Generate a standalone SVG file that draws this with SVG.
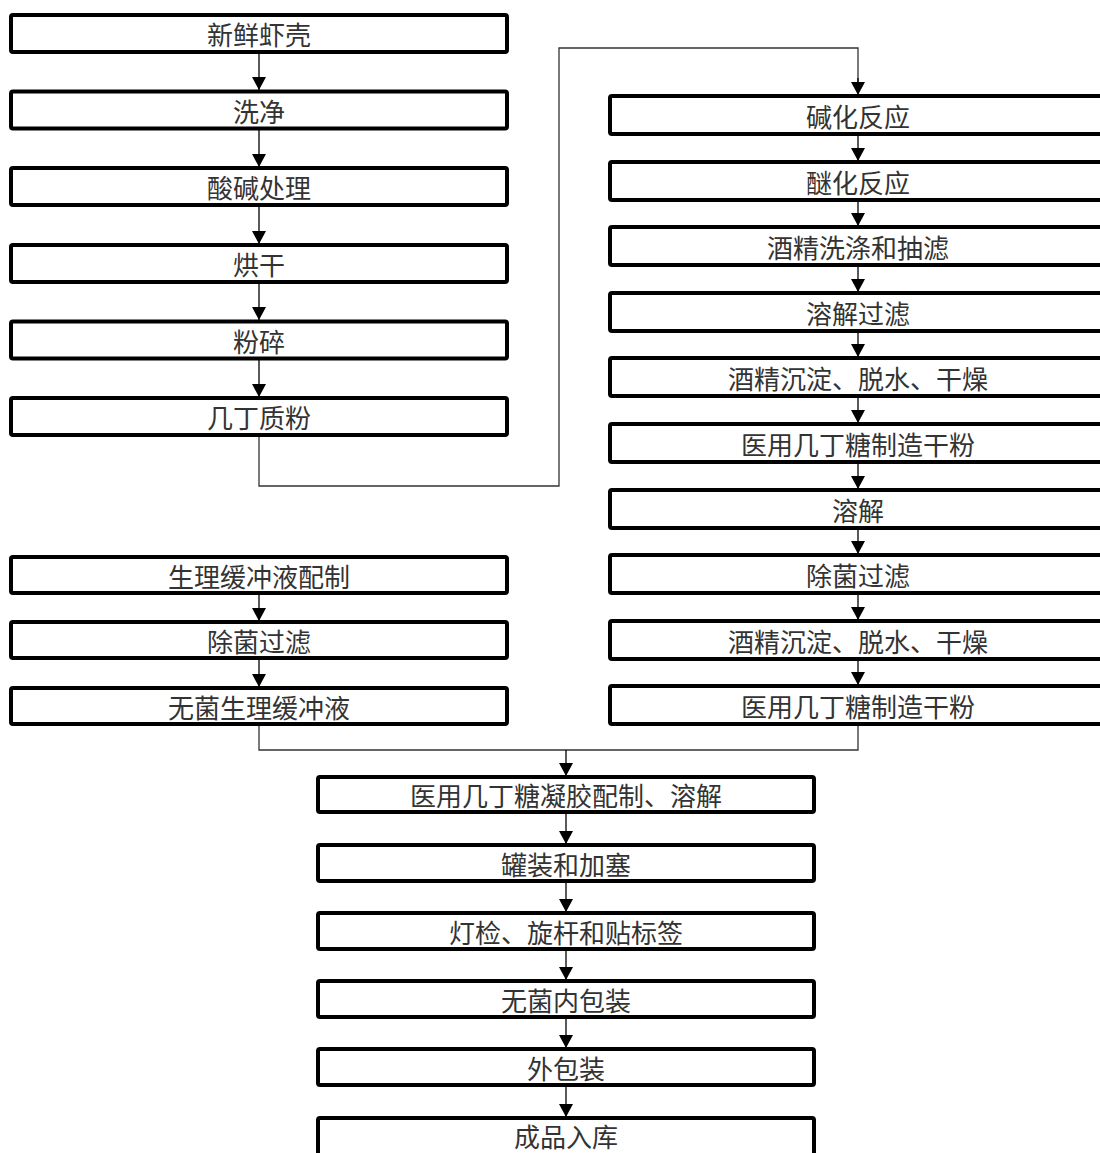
<svg xmlns="http://www.w3.org/2000/svg" width="1100" height="1153" viewBox="0 0 1100 1153">
<defs>
<marker id="ah" viewBox="0 0 13 14" refX="13" refY="7" markerWidth="13" markerHeight="14" markerUnits="userSpaceOnUse" orient="auto">
<path d="M0,0 L13,7 L0,14 Z" fill="#000"/>
</marker>
<style>
.box{fill:#fff;stroke:#000;stroke-width:4;}
.t{font-family:"Noto Sans CJK SC","Noto Sans",sans-serif;font-size:26px;fill:#333;text-anchor:middle;dominant-baseline:central;}
.c{fill:none;stroke:#333;stroke-width:1.3;}
.a{fill:none;stroke:#000;stroke-width:1.3;marker-end:url(#ah);}
</style>
</defs>
<rect width="1100" height="1153" fill="#fff"/>
<g id="connectors">
<line class="a" x1="259" y1="53" x2="259" y2="90"/>
<line class="a" x1="259" y1="130" x2="259" y2="167"/>
<line class="a" x1="259" y1="206" x2="259" y2="244"/>
<line class="a" x1="259" y1="283" x2="259" y2="320"/>
<line class="a" x1="259" y1="359" x2="259" y2="397"/>
<polyline class="c" points="259,436 259,486 559,486 559,48 858,48 858,82"/>
<line class="a" x1="858" y1="78" x2="858" y2="95"/>
<line class="a" x1="858" y1="136" x2="858" y2="161"/>
<line class="a" x1="858" y1="202" x2="858" y2="226"/>
<line class="a" x1="858" y1="267" x2="858" y2="292"/>
<line class="a" x1="858" y1="333" x2="858" y2="357"/>
<line class="a" x1="858" y1="398" x2="858" y2="423"/>
<line class="a" x1="858" y1="464" x2="858" y2="489"/>
<line class="a" x1="858" y1="530" x2="858" y2="554"/>
<line class="a" x1="858" y1="595" x2="858" y2="620"/>
<line class="a" x1="858" y1="661" x2="858" y2="685"/>
<line class="a" x1="259" y1="595" x2="259" y2="621"/>
<line class="a" x1="259" y1="660" x2="259" y2="687"/>
<polyline class="c" points="259,726 259,750 858,750 858,726"/>
<line class="a" x1="566" y1="750" x2="566" y2="776"/>
<line class="a" x1="566" y1="814" x2="566" y2="844"/>
<line class="a" x1="566" y1="882" x2="566" y2="912"/>
<line class="a" x1="566" y1="950" x2="566" y2="980"/>
<line class="a" x1="566" y1="1018" x2="566" y2="1048"/>
<line class="a" x1="566" y1="1086" x2="566" y2="1117"/>
</g>
<g id="n1"><rect class="box" x="11" y="15" width="496" height="37" rx="2"/><text class="t" x="259" y="33">新鲜虾壳</text></g>
<g id="n2"><rect class="box" x="11" y="91.5" width="496" height="37" rx="2"/><text class="t" x="259" y="110">洗净</text></g>
<g id="n3"><rect class="box" x="11" y="168" width="496" height="37" rx="2"/><text class="t" x="259" y="186.5">酸碱处理</text></g>
<g id="n4"><rect class="box" x="11" y="245" width="496" height="37" rx="2"/><text class="t" x="259" y="263.5">烘干</text></g>
<g id="n5"><rect class="box" x="11" y="321.5" width="496" height="37" rx="2"/><text class="t" x="259" y="340">粉碎</text></g>
<g id="n6"><rect class="box" x="11" y="398" width="496" height="37" rx="2"/><text class="t" x="259" y="416.5">几丁质粉</text></g>
<g id="r1"><rect class="box" x="610" y="96" width="496" height="38" rx="2"/><text class="t" x="858" y="115">碱化反应</text></g>
<g id="r2"><rect class="box" x="610" y="162" width="496" height="38" rx="2"/><text class="t" x="858" y="181">醚化反应</text></g>
<g id="r3"><rect class="box" x="610" y="227" width="496" height="38" rx="2"/><text class="t" x="858" y="246">酒精洗涤和抽滤</text></g>
<g id="r4"><rect class="box" x="610" y="293" width="496" height="38" rx="2"/><text class="t" x="858" y="312">溶解过滤</text></g>
<g id="r5"><rect class="box" x="610" y="358" width="496" height="38" rx="2"/><text class="t" x="858" y="377">酒精沉淀、脱水、干燥</text></g>
<g id="r6"><rect class="box" x="610" y="424" width="496" height="38" rx="2"/><text class="t" x="858" y="443">医用几丁糖制造干粉</text></g>
<g id="r7"><rect class="box" x="610" y="490" width="496" height="38" rx="2"/><text class="t" x="858" y="509">溶解</text></g>
<g id="r8"><rect class="box" x="610" y="555" width="496" height="38" rx="2"/><text class="t" x="858" y="574">除菌过滤</text></g>
<g id="r9"><rect class="box" x="610" y="621" width="496" height="38" rx="2"/><text class="t" x="858" y="640">酒精沉淀、脱水、干燥</text></g>
<g id="r10"><rect class="box" x="610" y="686" width="496" height="38" rx="2"/><text class="t" x="858" y="705">医用几丁糖制造干粉</text></g>
<g id="b1"><rect class="box" x="11" y="557" width="496" height="36" rx="2"/><text class="t" x="259" y="575">生理缓冲液配制</text></g>
<g id="b2"><rect class="box" x="11" y="622" width="496" height="36" rx="2"/><text class="t" x="259" y="640">除菌过滤</text></g>
<g id="b3"><rect class="box" x="11" y="688" width="496" height="36" rx="2"/><text class="t" x="259" y="706">无菌生理缓冲液</text></g>
<g id="m1"><rect class="box" x="318" y="777" width="496" height="35" rx="2"/><text class="t" x="566" y="794.5">医用几丁糖凝胶配制、溶解</text></g>
<g id="m2"><rect class="box" x="318" y="845" width="496" height="36" rx="2"/><text class="t" x="566" y="863">罐装和加塞</text></g>
<g id="m3"><rect class="box" x="318" y="913" width="496" height="36" rx="2"/><text class="t" x="566" y="931">灯检、旋杆和贴标签</text></g>
<g id="m4"><rect class="box" x="318" y="981" width="496" height="36" rx="2"/><text class="t" x="566" y="999">无菌内包装</text></g>
<g id="m5"><rect class="box" x="318" y="1049" width="496" height="36" rx="2"/><text class="t" x="566" y="1067">外包装</text></g>
<g id="m6"><rect class="box" x="318" y="1118" width="496" height="38" rx="2"/><text class="t" x="566" y="1135">成品入库</text></g>
</svg>
